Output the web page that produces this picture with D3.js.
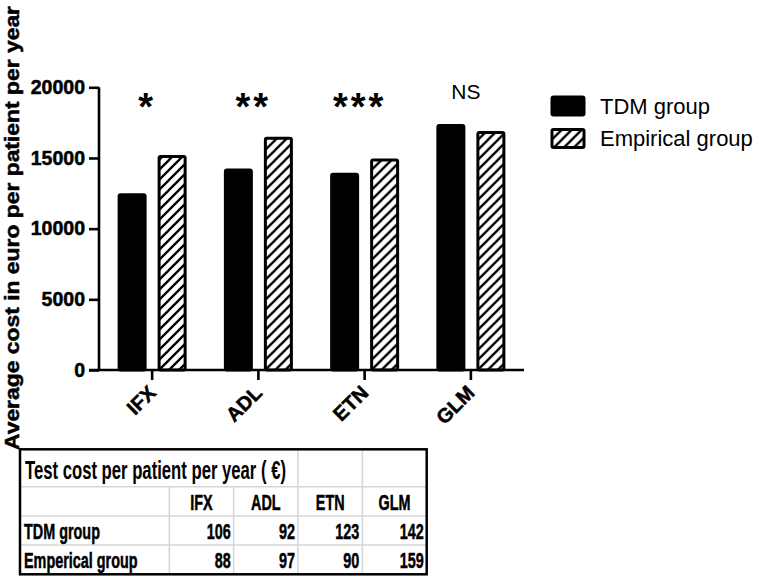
<!DOCTYPE html>
<html>
<head>
<meta charset="utf-8">
<script src="https://cdn.jsdelivr.net/npm/d3@7"></script>
<style>
  html, body { margin: 0; padding: 0; background: #fff; }
  svg { display: block; }
  text { font-family: "Liberation Sans", Arial, Helvetica, sans-serif; }
</style>
</head>
<body>
<svg id="chart" width="763" height="580"></svg>
<script>
// ---------- data ----------
const categories = ["IFX", "ADL", "ETN", "GLM"];
const seriesNames = ["TDM group", "Empirical group"];
const tdmValues = [12400, 14150, 13850, 17300];
const empiricalValues = [15100, 16400, 14850, 16800];
const significance = ["*", "**", "***", "NS"];
const yTicks = [0, 5000, 10000, 15000, 20000];
const yTitle = "Average cost in euro per patient per year";

const tableTitle = "Test cost per patient per year ( \u20AC)";
const tableColumns = ["IFX", "ADL", "ETN", "GLM"];
const tableRowLabels = ["TDM group", "Emperical group"];
const testCostTDM = [106, 92, 123, 142];
const testCostEmpirical = [88, 97, 90, 159];

// ---------- setup ----------
const svg = d3.select("#chart");
const defs = svg.append("defs");
const pat = defs.append("pattern")
  .attr("id", "hatch").attr("patternUnits", "userSpaceOnUse")
  .attr("width", 10).attr("height", 10);
pat.append("rect").attr("width", 10).attr("height", 10).attr("fill", "#fff");
pat.append("path")
  .attr("d", "M-2.5,2.5 l5,-5 M0,10 l10,-10 M7.5,12.5 l5,-5")
  .attr("stroke", "#000").attr("stroke-width", 2.3);

const plot = { left: 99, right: 524, top: 87.3, bottom: 370 };

const x0 = d3.scaleBand().domain(categories).range([plot.left, plot.right]).padding(0);
const x1 = d3.scaleBand().domain(seriesNames).range([0, x0.bandwidth()])
  .paddingInner(0.35).paddingOuter(0.503);
const y = d3.scaleLinear().domain([0, 20000]).range([plot.bottom, plot.top]);

const rows = categories.map((c, i) => ({
  cat: c,
  vals: [
    { s: seriesNames[0], v: tdmValues[i] },
    { s: seriesNames[1], v: empiricalValues[i] }
  ]
}));

// bars
const g = svg.append("g");
g.selectAll("g.grp").data(rows).join("g")
  .attr("class", "grp")
  .attr("transform", d => `translate(${x0(d.cat)},0)`)
  .selectAll("rect").data(d => d.vals).join("rect")
  .attr("x", d => x1(d.s))
  .attr("width", x1.bandwidth())
  .attr("y", d => y(d.v))
  .attr("height", d => y(0) - y(d.v))
  .attr("rx", 1.5)
  .attr("fill", d => d.s === seriesNames[0] ? "#000" : "url(#hatch)")
  .attr("stroke", "#000").attr("stroke-width", 3);

const heavy = sel => sel.attr("stroke", "#000").attr("stroke-width", 0.5).attr("paint-order", "stroke");

// y axis
const yAxis = svg.append("g")
  .attr("transform", `translate(${plot.left},0)`)
  .call(d3.axisLeft(y).tickValues(yTicks).tickSize(10).tickPadding(4).tickFormat(d3.format("d")));
yAxis.select(".domain").attr("stroke-width", 2.6).attr("d", `M0,${plot.top}V${plot.bottom}`);
yAxis.selectAll(".tick line").attr("stroke-width", 2.6);
yAxis.selectAll(".tick text")
  .attr("font-size", 19.5).attr("font-weight", "bold").attr("fill", "#000")
  .attr("font-family", '"Liberation Sans", Arial, sans-serif')
  .call(heavy);

// x axis
const xAxis = svg.append("g")
  .attr("transform", `translate(0,${plot.bottom})`)
  .call(d3.axisBottom(x0).tickSize(10).tickSizeOuter(0));
xAxis.select(".domain").attr("stroke-width", 2.6).attr("d", `M${plot.left - 10},0H${plot.right}`);
xAxis.selectAll(".tick line").attr("stroke-width", 2.6);
xAxis.selectAll(".tick text")
  .attr("font-size", 20).attr("font-weight", "bold").attr("fill", "#000")
  .attr("font-family", '"Liberation Sans", Arial, sans-serif')
  .attr("x", 0).attr("y", 0).attr("dy", 0)
  .attr("text-anchor", "end")
  .attr("transform", "translate(5,24) rotate(-45)")
  .call(heavy);

// y title
svg.append("text")
  .attr("transform", "translate(18.5,228) rotate(-90)")
  .attr("text-anchor", "middle")
  .attr("font-size", 19.5).attr("font-weight", "bold")
  .attr("textLength", 444).attr("lengthAdjust", "spacingAndGlyphs")
  .call(heavy)
  .text(yTitle);

// significance labels
svg.append("g").selectAll("text").data(categories).join("text")
  .attr("x", (d, i) => x0(d) + x0.bandwidth() / 2 - 5)
  .attr("y", (d, i) => significance[i] === "NS" ? 99 : 120)
  .attr("text-anchor", "middle")
  .attr("font-size", (d, i) => significance[i] === "NS" ? 21 : 38)
  .attr("font-weight", (d, i) => significance[i] === "NS" ? "normal" : "bold")
  .attr("letter-spacing", (d, i) => significance[i] === "NS" ? 0 : 3)
  .text((d, i) => significance[i]);

// legend
const legend = svg.append("g").attr("transform", "translate(552,97)");
const li = legend.selectAll("g").data(seriesNames).join("g")
  .attr("transform", (d, i) => `translate(0,${i * 32.5})`);
li.append("rect")
  .attr("width", 32).attr("height", 18).attr("rx", 1.5)
  .attr("fill", (d, i) => i === 0 ? "#000" : "url(#hatch)")
  .attr("stroke", "#000").attr("stroke-width", 3);
li.append("text")
  .attr("x", 48).attr("y", 16.5)
  .attr("font-size", 22)
  .text(d => d);

// ---------- table ----------
const tb = { left: 20, right: 426.7, top: 449.3, bottom: 574.3 };
const firstColRight = 169.3;
const rowEdges = [449.3, 486.7, 516, 545, 574.3];
const colX = d3.scaleBand().domain(tableColumns).range([firstColRight, tb.right]);
const grid = svg.append("g").attr("stroke", "#d6d6d6").attr("stroke-width", 1.5);
rowEdges.slice(1, -1).forEach(yy => {
  grid.append("line").attr("x1", tb.left).attr("x2", tb.right).attr("y1", yy).attr("y2", yy);
});
[firstColRight, ...tableColumns.slice(1).map(c => colX(c))].forEach((xx, i) => {
  const top = (i >= 2) ? rowEdges[0] : rowEdges[1];
  grid.append("line").attr("x1", xx).attr("x2", xx).attr("y1", top).attr("y2", tb.bottom);
});
svg.append("rect")
  .attr("x", tb.left).attr("y", tb.top)
  .attr("width", tb.right - tb.left).attr("height", tb.bottom - tb.top)
  .attr("fill", "none").attr("stroke", "#000").attr("stroke-width", 2.5);

// title
svg.append("text")
  .attr("x", 25).attr("y", 479)
  .attr("font-family", "Lato, 'Open Sans', sans-serif")
  .attr("font-size", 25).attr("font-weight", "bold")
  .attr("textLength", 261).attr("lengthAdjust", "spacingAndGlyphs")
  .text(tableTitle);

const SX = 0.64;
function condensed(sel, x, yy, anchor, txt) {
  sel.append("text")
    .attr("transform", `translate(${x},${yy}) scale(${SX},1)`)
    .attr("text-anchor", anchor)
    .attr("font-size", 22.5).attr("font-weight", "bold")
    .call(heavy)
    .text(txt);
}
const tg = svg.append("g");
tableColumns.forEach(c => condensed(tg, colX(c) + colX.bandwidth() / 2, 509.5, "middle", c));
const tableData = [testCostTDM, testCostEmpirical];
const baselines = [538.8, 567.8];
tableRowLabels.forEach((lab, r) => {
  condensed(tg, 24, baselines[r], "start", lab);
  tableData[r].forEach((v, i) => {
    condensed(tg, colX(tableColumns[i]) + colX.bandwidth() - 3, baselines[r], "end", String(v));
  });
});
</script>
</body>
</html>
